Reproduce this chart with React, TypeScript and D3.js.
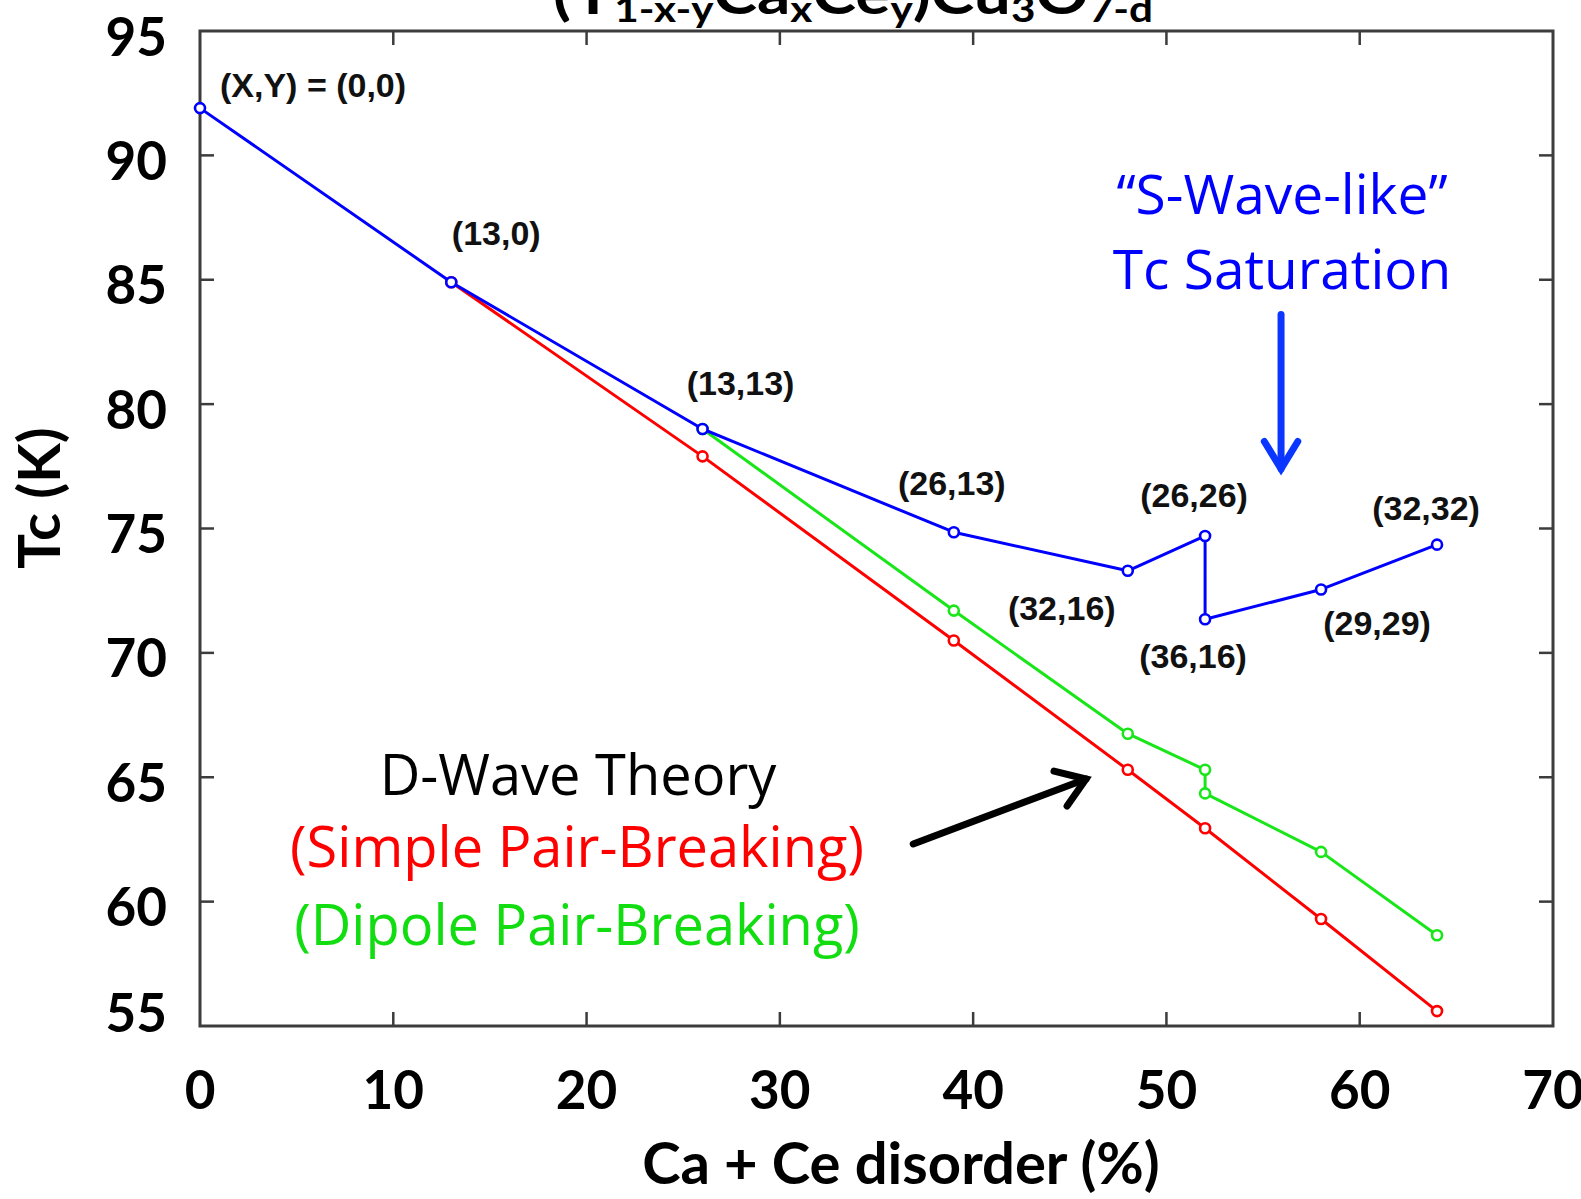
import React from "react";
import * as d3 from "d3";

const blueX = [0, 13, 26, 39, 48, 52, 52, 58, 64];
const blueTc = [91.9, 84.9, 79.0, 74.85, 73.3, 74.7, 71.35, 72.55, 74.35];
const redX = [13, 26, 39, 48, 52, 58, 64];
const redTc = [84.9, 77.9, 70.5, 65.3, 62.95, 59.3, 55.6];
const greenX = [26, 39, 48, 52, 52, 58, 64];
const greenTc = [79.0, 71.7, 66.75, 65.3, 64.35, 62.0, 58.65];

const pointLabels = ["(X,Y) = (0,0)", "(13,0)", "(13,13)", "(26,13)", "(32,16)", "(26,26)", "(36,16)", "(29,29)", "(32,32)"];
const labelDx = [20, 45, 38, -2, -66, -11, -12, 56, -11];
const labelDy = [-11, -37, -34, -37, 49, -29, 49, 46, -25];

const xTicks = [0, 10, 20, 30, 40, 50, 60, 70];
const yTicks = [55, 60, 65, 70, 75, 80, 85, 90, 95];

const W = 1581;
const H = 1199;
const L = 200, R = 1553, T = 31, B = 1026;

const BLUE = "#0000ff";
const RED = "#ff0000";
const GREEN = "#19e619";
const AXIS = "#3c3c3c";

export default function App() {
  const x = d3.scaleLinear().domain([0, 70]).range([L, R]);
  const y = d3.scaleLinear().domain([55, 95]).range([B, T]);
  const line = d3.line<[number, number]>().x((d) => x(d[0])).y((d) => y(d[1]));
  const zip = (xs: number[], ys: number[]) => xs.map((v, i) => [v, ys[i]] as [number, number]);

  const series = [
    { pts: zip(redX, redTc), color: RED },
    { pts: zip(greenX, greenTc), color: GREEN },
    { pts: zip(blueX, blueTc), color: BLUE },
  ];

  const tickLen = 14;

  // arrows in data units
  const blueArrow = { x0: 55.93, y0: 83.6, x1: 55.93, y1: 77.4 };
  const blackArrow = { x0: 36.9, y0: 62.32, x1: 45.84, y1: 64.93 };
  const arrowHead = (a: { x0: number; y0: number; x1: number; y1: number }, len: number, ang: number) => {
    const px0 = x(a.x0), py0 = y(a.y0), px1 = x(a.x1), py1 = y(a.y1);
    const th = Math.atan2(py1 - py0, px1 - px0);
    const p1 = [px1 - len * Math.cos(th - ang), py1 - len * Math.sin(th - ang)];
    const p2 = [px1 - len * Math.cos(th + ang), py1 - len * Math.sin(th + ang)];
    return {
      shaft: `M${px0},${py0}L${px1},${py1}`,
      head: `M${p1[0]},${p1[1]}L${px1},${py1}L${p2[0]},${p2[1]}`,
    };
  };
  const ba = arrowHead(blueArrow, 32, 0.55);
  const ka = arrowHead(blackArrow, 33, 0.6);

  const tickFont = "Lato, 'Open Sans', sans-serif";
  const annFont = "'Open Sans', Lato, sans-serif";
  const lblFont = "'Liberation Sans', Arial, sans-serif";

  return (
    <div style={{ position: "absolute", left: 0, top: 0 }}>
      <svg width={W} height={H} viewBox={`0 0 ${W} ${H}`} style={{ display: "block", background: "#fff" }}>
        <rect x={0} y={0} width={W} height={H} fill="#fff" />
        {/* title (cut off at top, as in the reference) */}
        <text x={553} y={14} fontFamily={tickFont} fontWeight={700} fontSize={56} fill="#000" textLength={600} lengthAdjust="spacingAndGlyphs">
          <tspan>(Y</tspan>
          <tspan fontSize={36} dy={8}>1-x-y</tspan>
          <tspan dy={-8}>Ca</tspan>
          <tspan fontSize={36} dy={8}>x</tspan>
          <tspan dy={-8}>Ce</tspan>
          <tspan fontSize={36} dy={8}>y</tspan>
          <tspan dy={-8}>)Cu</tspan>
          <tspan fontSize={36} dy={8}>3</tspan>
          <tspan dy={-8}>O</tspan>
          <tspan fontSize={36} dy={8}>7-d</tspan>
        </text>

        {/* ticks */}
        {xTicks.slice(1, -1).map((t) => (
          <g key={"xt" + t} stroke={AXIS} strokeWidth={2.5}>
            <line x1={x(t)} x2={x(t)} y1={B} y2={B - tickLen} />
            <line x1={x(t)} x2={x(t)} y1={T} y2={T + tickLen} />
          </g>
        ))}
        {yTicks.slice(1, -1).map((t) => (
          <g key={"yt" + t} stroke={AXIS} strokeWidth={2.5}>
            <line x1={L} x2={L + tickLen} y1={y(t)} y2={y(t)} />
            <line x1={R} x2={R - tickLen} y1={y(t)} y2={y(t)} />
          </g>
        ))}
        <rect x={L} y={T} width={R - L} height={B - T} fill="none" stroke={AXIS} strokeWidth={3} />

        {/* tick labels */}
        {xTicks.map((t) => (
          <text key={"xl" + t} x={x(t)} y={1109} textAnchor="middle" fontFamily={tickFont} fontWeight={700} fontSize={53} fill="#000">
            {t}
          </text>
        ))}
        {yTicks.map((t) => (
          <text key={"yl" + t} x={167} y={Math.min(y(t) + 4, B - 15)} textAnchor="end" dominantBaseline="central" fontFamily={tickFont} fontWeight={700} fontSize={53} fill="#000">
            {t}
          </text>
        ))}

        {/* axis titles */}
        <text x={901} y={1184} textAnchor="middle" fontFamily={tickFont} fontWeight={700} fontSize={58} fill="#000">
          Ca + Ce disorder (%)
        </text>
        <text transform={`translate(60,498) rotate(-90)`} textAnchor="middle" fontFamily={tickFont} fontWeight={700} fontSize={58} fill="#000">
          Tc (K)
        </text>

        {/* series */}
        {series.map((s, i) => (
          <g key={"s" + i}>
            <path d={line(s.pts) || ""} fill="none" stroke={s.color} strokeWidth={3} strokeLinejoin="round" />
            {s.pts.map((p, j) => (
              <circle key={j} cx={x(p[0])} cy={y(p[1])} r={5} fill="#fff" stroke={s.color} strokeWidth={2.6} />
            ))}
          </g>
        ))}

        {/* point labels */}
        {pointLabels.map((lab, i) => (
          <text
            key={"pl" + i}
            x={x(blueX[i]) + labelDx[i]}
            y={y(blueTc[i]) + labelDy[i]}
            textAnchor={i === 0 ? "start" : "middle"}
            fontFamily={lblFont}
            fontWeight={700}
            fontSize={34}
            fill="#111"
          >
            {lab}
          </text>
        ))}

        {/* annotations */}
        <text x={1282} y={214} textAnchor="middle" fontFamily={annFont} fontSize={55} fill={BLUE}>
          “S-Wave-like”
        </text>
        <text x={1282} y={289} textAnchor="middle" fontFamily={annFont} fontSize={55} fill={BLUE}>
          Tc Saturation
        </text>
        <path d={ba.shaft} stroke="#0a36ff" strokeWidth={7} strokeLinecap="round" fill="none" />
        <path d={ba.head} stroke="#0a36ff" strokeWidth={7} strokeLinecap="round" strokeLinejoin="miter" fill="none" />

        <text x={578} y={795} textAnchor="middle" fontFamily={annFont} fontSize={56} fill="#000">
          D-Wave Theory
        </text>
        <text x={577} y={867} textAnchor="middle" fontFamily={annFont} fontSize={56} fill={RED}>
          (Simple Pair-Breaking)
        </text>
        <text x={577} y={945} textAnchor="middle" fontFamily={annFont} fontSize={56} fill="#11dd11">
          (Dipole Pair-Breaking)
        </text>
        <path d={ka.shaft} stroke="#000" strokeWidth={7} strokeLinecap="round" fill="none" />
        <path d={ka.head} stroke="#000" strokeWidth={7} strokeLinecap="round" strokeLinejoin="miter" fill="none" />
      </svg>
    </div>
  );
}
